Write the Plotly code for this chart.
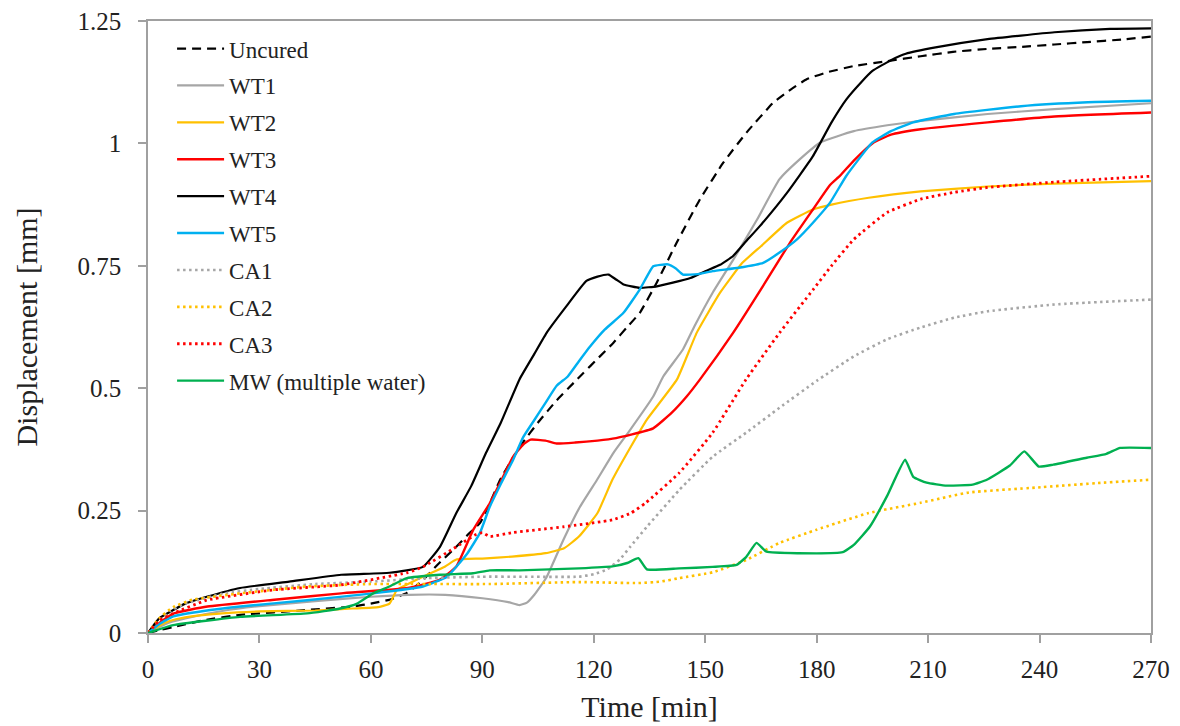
import plotly.graph_objects as go

# ---- data (time in min, displacement in mm) ----
uncured_t = [0, 3, 6.8, 15, 24.8, 42.8, 55, 60.6, 65, 69.7, 74, 78, 83, 86, 89.4, 92, 94.8, 98, 101, 105, 110, 115.5, 117.2, 121, 125.3, 129, 132.4, 136.9, 142.3, 148.6, 154.9, 161.1, 168.3, 173, 177.3, 182.7, 190, 199, 208, 216.7, 226, 234.7, 244, 252.8, 262, 270]
uncured_y = [0, 0.006, 0.012, 0.026, 0.037, 0.047, 0.054, 0.061, 0.068, 0.082, 0.108, 0.14, 0.176, 0.2, 0.225, 0.265, 0.313, 0.355, 0.39, 0.43, 0.475, 0.518, 0.531, 0.56, 0.593, 0.625, 0.654, 0.715, 0.797, 0.886, 0.961, 1.022, 1.083, 1.11, 1.131, 1.145, 1.158, 1.168, 1.178, 1.187, 1.193, 1.197, 1.202, 1.207, 1.212, 1.218]

wt1_t = [0, 3, 6, 10, 20, 30, 45, 60, 70, 80, 90, 97, 100, 102, 104, 107.3, 111.8, 116.3, 120.8, 125.3, 129.8, 136, 138.7, 144, 147, 152, 157.6, 164, 170, 175.5, 181, 190, 199, 208, 226, 244, 270]
wt1_y = [0, 0.012, 0.022, 0.03, 0.045, 0.055, 0.065, 0.074, 0.078, 0.078, 0.071, 0.063, 0.057, 0.062, 0.078, 0.114, 0.19, 0.258, 0.312, 0.368, 0.415, 0.483, 0.524, 0.579, 0.625, 0.695, 0.763, 0.845, 0.927, 0.968, 1.002, 1.025, 1.037, 1.046, 1.06, 1.07, 1.082]

wt2_t = [0, 3, 6, 10, 20, 30, 45, 55, 62, 65, 67, 70, 74, 80, 83, 90, 98, 107, 112, 116, 121, 125, 130, 134.3, 142.4, 147.7, 154, 160, 165, 172, 179, 184, 194, 208, 226, 244, 270]
wt2_y = [0, 0.015, 0.025, 0.032, 0.04, 0.044, 0.046, 0.05, 0.053, 0.06, 0.088, 0.1, 0.115, 0.136, 0.15, 0.152, 0.156, 0.163, 0.173, 0.197, 0.245, 0.313, 0.381, 0.436, 0.518, 0.613, 0.695, 0.756, 0.79, 0.838, 0.865, 0.875, 0.889, 0.902, 0.912, 0.918, 0.923]

wt3_t = [0, 3, 7, 16, 34, 52, 70, 78.6, 83, 87.5, 92, 95, 98.3, 101, 103, 107, 110, 115, 121, 126, 130, 136, 141, 145, 148.6, 157.5, 165.5, 172.8, 179, 183.6, 186.3, 190, 195, 200, 208, 226, 244, 270]
wt3_y = [0, 0.02, 0.04, 0.054, 0.068, 0.081, 0.092, 0.109, 0.136, 0.21, 0.265, 0.31, 0.36, 0.385, 0.395, 0.393, 0.387, 0.389, 0.393, 0.398, 0.405, 0.418, 0.45, 0.483, 0.518, 0.613, 0.708, 0.797, 0.865, 0.915, 0.934, 0.965, 1.0, 1.018, 1.029, 1.043, 1.055, 1.063]

wt4_t = [0, 3, 6.8, 10, 15.8, 24.8, 38, 52, 65, 74, 78.6, 83, 87, 91, 95, 100, 104, 107.3, 112.7, 118, 121, 124, 126, 128, 132.4, 137, 141, 146, 150, 154, 157.5, 161, 164.7, 172, 179, 184, 188, 192, 195, 200, 204, 212, 226, 244, 259, 270]
wt4_y = [0, 0.03, 0.047, 0.06, 0.074, 0.092, 0.105, 0.119, 0.123, 0.135, 0.176, 0.245, 0.3, 0.368, 0.43, 0.518, 0.57, 0.613, 0.668, 0.719, 0.728, 0.732, 0.722, 0.712, 0.705, 0.708, 0.715, 0.725, 0.739, 0.752, 0.77, 0.8, 0.831, 0.899, 0.974, 1.043, 1.09, 1.125, 1.148, 1.17, 1.183, 1.196, 1.213, 1.227, 1.234, 1.235]

wt5_t = [0, 3, 6.8, 15, 24.8, 42.8, 60.6, 74, 80.5, 86, 89.4, 92, 95, 98.3, 101, 104, 107, 110, 113, 116, 119, 123, 128, 132.4, 136, 138, 140, 142, 144, 148, 152, 159, 165.6, 170, 174.7, 179, 183.6, 188, 195, 200, 206, 217, 235, 253, 270]
wt5_y = [0, 0.018, 0.034, 0.045, 0.054, 0.067, 0.081, 0.095, 0.115, 0.163, 0.205, 0.258, 0.305, 0.354, 0.4, 0.435, 0.47, 0.505, 0.524, 0.555, 0.585, 0.62, 0.654, 0.702, 0.749, 0.752, 0.753, 0.745, 0.732, 0.733, 0.739, 0.746, 0.756, 0.777, 0.804, 0.838, 0.879, 0.934, 1.002, 1.025, 1.043, 1.06, 1.076, 1.084, 1.087]

ca1_t = [0, 3, 6, 10, 20, 30, 45, 60, 75, 90, 100, 116, 120, 123.6, 127, 129.8, 134.3, 143, 152, 161, 170, 180, 190, 199, 208, 217, 226, 244, 270]
ca1_y = [0, 0.025, 0.045, 0.06, 0.08, 0.09, 0.1, 0.105, 0.112, 0.115, 0.115, 0.115, 0.12, 0.13, 0.15, 0.176, 0.217, 0.292, 0.36, 0.409, 0.46, 0.515, 0.565, 0.6, 0.624, 0.644, 0.657, 0.671, 0.681]

ca2_t = [0, 3, 6.8, 12, 24.8, 42.8, 60, 75, 92, 116, 132, 138, 143, 152, 161, 170, 180, 194, 208, 221, 239, 257, 270]
ca2_y = [0, 0.03, 0.053, 0.068, 0.081, 0.095, 0.1, 0.1, 0.1, 0.104, 0.102, 0.105, 0.112, 0.124, 0.149, 0.184, 0.211, 0.245, 0.266, 0.287, 0.297, 0.307, 0.313]

ca3_t = [0, 3, 6.8, 15.8, 33.7, 51.7, 69.7, 74, 83, 88, 90, 92, 98, 112, 125, 130, 134, 143, 152, 161, 170, 179, 184, 190, 199, 208, 217, 226, 244, 270]
ca3_y = [0, 0.025, 0.04, 0.067, 0.088, 0.098, 0.123, 0.135, 0.176, 0.2, 0.205, 0.197, 0.205, 0.217, 0.231, 0.245, 0.266, 0.327, 0.409, 0.518, 0.613, 0.701, 0.75, 0.804, 0.859, 0.886, 0.9, 0.91, 0.921, 0.933]

mw_t = [0, 6.8, 24.8, 42.8, 51.7, 56.3, 60.6, 65, 69.7, 78.6, 87.5, 92, 100, 116, 125, 129, 132, 134.3, 143, 152, 158.4, 161, 163.8, 166.5, 175, 187, 190, 194.3, 198.9, 203.8, 206, 209.6, 215, 222, 225.8, 232, 235.9, 239.8, 243.7, 252.7, 258, 261.7, 270]
mw_y = [0, 0.016, 0.033, 0.04, 0.05, 0.06, 0.081, 0.095, 0.112, 0.119, 0.122, 0.128, 0.128, 0.132, 0.136, 0.143, 0.153, 0.13, 0.132, 0.135, 0.139, 0.155, 0.184, 0.166, 0.163, 0.165, 0.18, 0.217, 0.279, 0.354, 0.319, 0.307, 0.301, 0.303, 0.313, 0.342, 0.371, 0.34, 0.344, 0.358, 0.366, 0.378, 0.378]

x_ticks = [0, 30, 60, 90, 120, 150, 180, 210, 240, 270]
y_ticks = [0, 0.25, 0.5, 0.75, 1, 1.25]
y_tick_labels = ["0", "0.25", "0.5", "0.75", "1", "1.25"]

series = [
    ("Uncured", uncured_t, uncured_y, "#000000", "9px,6px", 2.2),
    ("WT1", wt1_t, wt1_y, "#A6A6A6", "solid", 2.2),
    ("WT2", wt2_t, wt2_y, "#FFC000", "solid", 2.2),
    ("WT3", wt3_t, wt3_y, "#FF0000", "solid", 2.4),
    ("WT4", wt4_t, wt4_y, "#000000", "solid", 2.2),
    ("WT5", wt5_t, wt5_y, "#00B0F0", "solid", 2.4),
    ("CA1", ca1_t, ca1_y, "#A6A6A6", "2.5px,3.5px", 2.6),
    ("CA2", ca2_t, ca2_y, "#FFC000", "2.5px,3.5px", 2.6),
    ("CA3", ca3_t, ca3_y, "#FF0000", "2.5px,3.5px", 2.8),
    ("MW (multiple water)", mw_t, mw_y, "#00B050", "solid", 2.4),
]

fig = go.Figure()
for name, t, y, color, dash, w in series:
    fig.add_trace(go.Scatter(
        x=t, y=y, name=name, mode="lines", legendgroup=name,
        line=dict(color=color, dash=dash, width=w, shape="spline", smoothing=0.4),
    ))

serif = "Liberation Serif, Times New Roman, serif"
axis_common = dict(
    showline=True, linecolor="#A0A0A0", linewidth=1.5, mirror=True,
    ticks="outside", ticklen=8, tickcolor="#A0A0A0", tickwidth=1.5,
    showgrid=False, zeroline=False, automargin=False,
    tickfont=dict(family=serif, size=25, color="#222222"),
)

fig.update_layout(
    width=1180, height=726,
    margin=dict(l=148, r=29, t=21, b=93),
    paper_bgcolor="white", plot_bgcolor="white",
    showlegend=True,
    legend=dict(
        x=0.024, y=0.99, xanchor="left", yanchor="top",
        font=dict(family=serif, size=23, color="#222222"),
        bgcolor="rgba(0,0,0,0)", itemwidth=47, tracegroupgap=4,
    ),
    xaxis=dict(
        range=[0, 270], tickvals=x_ticks, ticklabelstandoff=5,
        title=dict(text="Time [min]", font=dict(family=serif, size=30, color="#222222"), standoff=14),
        **axis_common,
    ),
    yaxis=dict(
        range=[0, 1.25], tickvals=y_ticks, ticktext=y_tick_labels, ticklabelstandoff=12,
        title=dict(text="Displacement [mm]", font=dict(family=serif, size=30, color="#222222"), standoff=31),
        **axis_common,
    ),
)

fig.write_html("out.html")
